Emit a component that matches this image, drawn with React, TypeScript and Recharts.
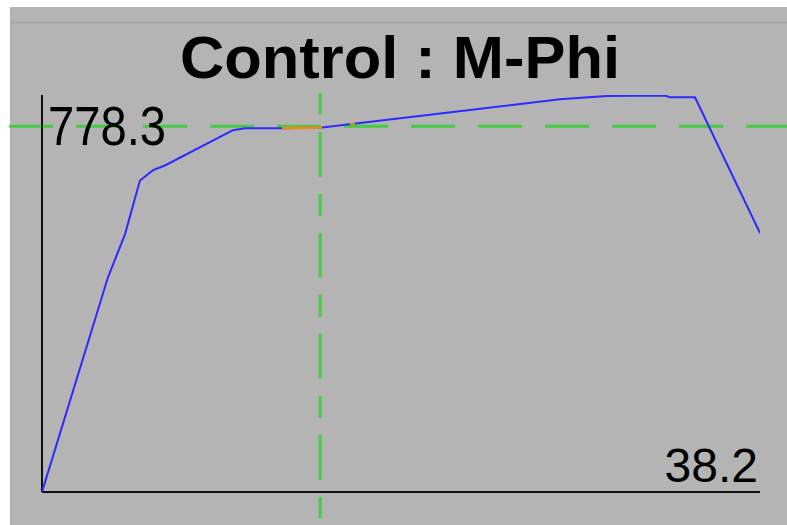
import React from 'react';
import { LineChart, Line, XAxis, YAxis, ReferenceLine } from 'recharts';

const curvatureX = [0, 3.51, 4.42, 5.21, 5.91, 6.54, 10.16, 10.8, 12.77, 14.9, 27.56, 30.06, 33.15, 33.41, 34.74, 38.2];
const momentY = [0, 457, 549, 663, 685, 695, 770, 774, 774, 776, 836, 843, 844, 840, 840, 551];

const highlightX = [12.77, 14.9, 15.5, 16.39, 16.65];
const highlightY = [774, 776, null, 783, 784];

const titleText = 'Control : M-Phi';
const yMarkValue = 778.3;
const xMarkValue = 14.8;
const xMax = 38.2;
const yTop = 845;
const xMaxLabel = '38.2';
const yMarkLabel = '778.3';

const mainData = curvatureX.map((x, i) => ({ x, y: momentY[i] }));
const highlightData = highlightX.map((x, i) => ({ x, y: highlightY[i] }));

const FONT = '"Liberation Sans", Arial, sans-serif';
const GREEN = '#44cc44';

export default function App() {
  return (
    <div style={{ position: 'absolute', left: 0, top: 0, width: 787, height: 525, background: '#ffffff', overflow: 'hidden' }}>
      <div style={{ position: 'absolute', left: 10, top: 7, width: 777, height: 518, background: '#b4b4b4' }} />
      <div style={{ position: 'absolute', left: 10, top: 21, width: 777, height: 3, background: 'linear-gradient(#b0b0b0, #a8a8a8, #b0b0b0)' }} />
      <svg style={{ position: 'absolute', left: 0, top: 0 }} width={787} height={100}>
        <text x={400} y={78} textAnchor="middle" fontFamily={FONT} fontWeight="bold" fontSize={60} fill="#000" textLength={440} lengthAdjust="spacingAndGlyphs">
          {titleText}
        </text>
      </svg>
      <div style={{ position: 'absolute', left: 0, top: 0 }}>
        <LineChart width={787} height={525} margin={{ top: 95, right: 27, bottom: 33, left: 42 }} style={{ overflow: 'visible' }}>
          <XAxis type="number" dataKey="x" domain={[0, xMax]} allowDataOverflow hide />
          <YAxis type="number" dataKey="y" domain={[0, yTop]} allowDataOverflow hide />
          <ReferenceLine
            segment={[{ x: -1.75, y: yMarkValue }, { x: 39.7, y: yMarkValue }]}
            ifOverflow="visible"
            stroke={GREEN}
            strokeWidth={3}
            strokeDasharray="44 23"
          />
          <ReferenceLine
            segment={[{ x: xMarkValue, y: 850 }, { x: xMarkValue, y: -75 }]}
            ifOverflow="visible"
            stroke={GREEN}
            strokeWidth={3}
            strokeDasharray="22 17 45 17"
          />
          <ReferenceLine
            segment={[{ x: 0, y: 0 }, { x: 0, y: yTop }]}
            ifOverflow="visible"
            stroke="#111"
            strokeWidth={2}
          />
          <ReferenceLine
            segment={[{ x: 0, y: 0 }, { x: xMax, y: 0 }]}
            ifOverflow="visible"
            stroke="#111"
            strokeWidth={2}
          />
          <ReferenceLine
            y={0}
            stroke="none"
            ifOverflow="visible"
            label={(props: any) => {
              const vb = props.viewBox || {};
              return (
                <text x={vb.x + vb.width - 2} y={vb.y - 10} textAnchor="end" fontFamily={FONT} fontSize={48} fill="#000">
                  {xMaxLabel}
                </text>
              );
            }}
          />
          <ReferenceLine
            y={yMarkValue}
            stroke="none"
            label={(props: any) => {
              const vb = props.viewBox || {};
              return (
                <text x={vb.x + 6} y={vb.y + 19} fontFamily={FONT} fontSize={56} fill="#000" textLength={118} lengthAdjust="spacingAndGlyphs">
                  {yMarkLabel}
                </text>
              );
            }}
          />
          <Line data={mainData} dataKey="y" type="linear" stroke="#2b2bff" strokeWidth={2} dot={false} isAnimationActive={false} />
          <Line data={highlightData} dataKey="y" type="linear" stroke="#ee8a10" strokeWidth={2.5} dot={false} connectNulls={false} isAnimationActive={false} />
        </LineChart>
      </div>
    </div>
  );
}
